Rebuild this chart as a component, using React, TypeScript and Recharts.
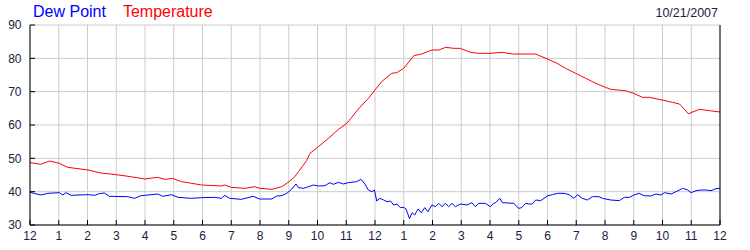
// Dew point / temperature day chart, 10/21/2007
import { LineChart, Line, XAxis, YAxis, CartesianGrid } from "recharts";

const CHART_DATE = "10/21/2007";

const hourTicks = Array.from({ length: 25 }, (_, i) => i);
const degreeTicks = [30, 40, 50, 60, 70, 80, 90];

// hours since midnight
const tempHours = [
  0, 0.37, 0.69, 1.02, 1.31, 2.02, 2.46, 3.0, 3.5, 3.99, 4.44, 4.69, 4.96, 5.27,
  5.49, 5.97, 6.67, 6.77, 7.0, 7.47, 7.82, 8.0, 8.41, 8.76, 9.01, 9.21, 9.34,
  9.62, 9.74, 10.03, 10.38, 10.73, 11.02, 11.19, 11.42, 11.77, 12.0, 12.23,
  12.58, 12.76, 13.0, 13.35, 13.62, 13.98, 14.22, 14.45, 14.74, 14.97, 15.32,
  15.61, 16.01, 16.43, 16.78, 17.01, 17.59, 18.02, 18.29, 18.63, 18.98, 19.33,
  19.68, 20.02, 20.2, 20.71, 21.0, 21.3, 21.54, 21.98, 22.35, 22.59, 22.76,
  22.91, 22.99, 23.28, 23.63, 24,
];
const tempValues = [
  48.7, 48.2, 49.2, 48.5, 47.3, 46.5, 45.6, 45.1, 44.5, 43.8, 44.3, 43.7, 44,
  43, 42.7, 42, 41.7, 42, 41.3, 41, 41.5, 41, 40.7, 41.5, 43, 44.5, 46, 49.3,
  51.5, 53.5, 56, 58.7, 60.5, 62.3, 64.8, 68, 70.5, 73, 75.5, 75.7, 77, 80.8,
  81.3, 82.5, 82.5, 83.3, 83, 83, 81.8, 81.5, 81.5, 81.8, 81.3, 81.3, 81.3,
  79.7, 78.7, 77, 75.5, 74, 72.5, 71.3, 70.7, 70.3, 69.5, 68.3, 68.3, 67.5,
  66.8, 66.3, 64.7, 63.3, 63.7, 64.7, 64.3, 63.9,
];

const dewHours = [
  0, 0.38, 0.62, 1.02, 1.14, 1.25, 1.43, 2.02, 2.24, 2.41, 2.59, 2.76, 3.4,
  3.63, 3.86, 3.99, 4.45, 4.62, 4.92, 5.15, 5.61, 5.96, 6.42, 6.66, 6.77, 6.95,
  7.35, 7.76, 7.99, 8.41, 8.58, 8.76, 8.93, 9.1, 9.25, 9.34, 9.51, 9.86, 10.03,
  10.26, 10.43, 10.55, 10.73, 10.9, 11.07, 11.36, 11.51, 11.65, 11.77, 11.89,
  11.98, 12.06, 12.17, 12.3, 12.42, 12.54, 12.65, 12.77, 12.88, 13.0, 13.08,
  13.2, 13.29, 13.38, 13.5, 13.61, 13.73, 13.84, 13.98, 14.1, 14.22, 14.33,
  14.45, 14.56, 14.68, 14.8, 14.97, 15.2, 15.37, 15.49, 15.61, 15.84, 16.01,
  16.13, 16.2, 16.34, 16.43, 16.83, 16.99, 17.1, 17.24, 17.36, 17.47, 17.59,
  17.76, 18.02, 18.17, 18.34, 18.58, 18.75, 18.92, 19.04, 19.21, 19.39, 19.56,
  19.79, 19.91, 20.2, 20.5, 20.67, 20.85, 21.0, 21.19, 21.36, 21.6, 21.77,
  21.95, 22.07, 22.3, 22.47, 22.7, 22.88, 22.99, 23.17, 23.34, 23.51, 23.69,
  23.86, 24,
];
const dewValues = [
  39.8, 39, 39.5, 39.7, 39, 39.7, 38.9, 39.1, 38.9, 39.4, 39.6, 38.6, 38.5, 38,
  38.8, 38.9, 39.3, 38.6, 39.1, 38.3, 38, 38.2, 38.3, 38, 38.9, 38, 37.7, 38.6,
  37.8, 37.8, 38.7, 38.8, 39.5, 40.7, 42.3, 41.2, 41, 42, 41.7, 41.8, 42.7,
  42.2, 42.8, 42.3, 42.7, 43, 43.7, 42.3, 40.5, 40, 40.5, 37.2, 38, 37.5, 37,
  37.2, 36, 36.3, 35.2, 35.3, 34.8, 31.9, 33.7, 33, 34.8, 33.7, 35.2, 34, 36,
  35.5, 36.5, 35.5, 36.5, 35.5, 36.5, 35.5, 36.3, 36, 36.7, 35.5, 36.5, 36.5,
  35.5, 36.5, 36.7, 38, 36.7, 36.5, 35, 35.2, 36.5, 36.3, 36.3, 37.5, 37.3,
  38.8, 39.1, 39.5, 39.5, 39.1, 38, 39.1, 38, 37.5, 38.5, 38.5, 38, 37.5, 37.3,
  38.3, 38.3, 39, 39.5, 38.8, 38.7, 39.3, 39, 39.7, 39.3, 40, 41, 40.5, 39.7,
  40.3, 40.5, 40.5, 40.3, 40.9, 41,
];

const tempData = tempHours.map((h, i) => ({ hour: h, temp: tempValues[i] }));
const dewData = dewHours.map((h, i) => ({ hour: h, dew: dewValues[i] }));

const FONT = "'Liberation Sans', Arial, sans-serif";
const LABEL_COLOUR = "#1a2240";
const tickStyle = { fontSize: 12, fontFamily: FONT, fill: LABEL_COLOUR };

const hourLabel = (h: number) => String(h % 12 === 0 ? 12 : h % 12);

export default function App() {
  return (
    <div style={{ position: "absolute", left: 0, top: 0, width: 750, height: 250, background: "#fff" }}>
      <div
        style={{
          position: "absolute", left: 33, top: 4, fontFamily: FONT, fontSize: 16,
          lineHeight: "16px", whiteSpace: "nowrap",
        }}
      >
        <span style={{ color: "#0000ff" }}>Dew Point</span>
        <span style={{ color: "#ff0000", marginLeft: 17 }}>Temperature</span>
      </div>
      <div
        style={{
          position: "absolute", right: 32, top: 6.5, fontFamily: FONT, fontSize: 12.5,
          lineHeight: "13px", color: LABEL_COLOUR, whiteSpace: "nowrap",
        }}
      >
        {CHART_DATE}
      </div>
      <LineChart width={750} height={250} margin={{ top: 25, right: 0, bottom: 0, left: 0 }}>
        <CartesianGrid stroke="#cccccc" />
        <XAxis
          dataKey="hour"
          type="number"
          domain={[0, 24]}
          ticks={hourTicks}
          tickFormatter={hourLabel}
          interval={0}
          height={25}
          allowDataOverflow
          tick={tickStyle}
          tickSize={-5}
          tickMargin={11}
          axisLine={{ stroke: "#000" }}
          tickLine={{ stroke: "#000" }}
        />
        <XAxis
          xAxisId="top"
          orientation="top"
          dataKey="hour"
          type="number"
          domain={[0, 24]}
          ticks={hourTicks}
          interval={0}
          height={0}
          tick={false}
          tickSize={-5}
          axisLine={{ stroke: "#000" }}
          tickLine={{ stroke: "#000" }}
        />
        <YAxis
          domain={[30, 90]}
          ticks={degreeTicks}
          interval={0}
          width={30}
          tick={tickStyle}
          tickSize={-5}
          tickMargin={13.5}
          axisLine={{ stroke: "#000" }}
          tickLine={{ stroke: "#000" }}
        />
        <YAxis
          yAxisId="right"
          orientation="right"
          domain={[30, 90]}
          ticks={degreeTicks}
          interval={0}
          width={30}
          tick={tickStyle}
          tickSize={-5}
          tickMargin={13}
          axisLine={{ stroke: "#000" }}
          tickLine={{ stroke: "#000" }}
        />
        <Line
          data={tempData}
          dataKey="temp"
          type="linear"
          stroke="#ff0000"
          strokeWidth={1}
          dot={false}
          isAnimationActive={false}
        />
        <Line
          data={dewData}
          dataKey="dew"
          type="linear"
          stroke="#0000ff"
          strokeWidth={1}
          dot={false}
          isAnimationActive={false}
        />
      </LineChart>
    </div>
  );
}
